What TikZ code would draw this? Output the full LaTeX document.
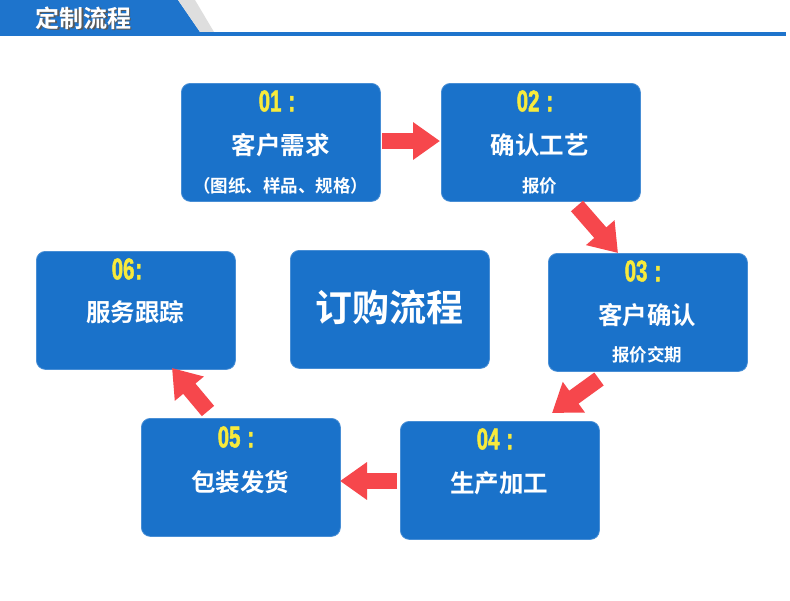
\documentclass[tikz,border=0pt]{standalone}
\usepackage{fontspec}
\setmainfont{Noto Sans CJK SC}[BoldFont={Noto Sans CJK SC Bold}]
\newfontfamily\numfont{Liberation Sans}[UprightFont={* Bold}, BoldFont={* Bold}, FakeStretch=0.68, FakeBold=1.5]
\usetikzlibrary{arrows.meta}
\definecolor{boxblue}{HTML}{1A72CA}
\definecolor{hdrblue}{HTML}{1E74CC}
\definecolor{arrred}{HTML}{F6474C}
\definecolor{numyel}{HTML}{F7EA3C}
\begin{document}
\begin{tikzpicture}[x=1pt,y=-1pt,
  box/.style={fill=boxblue, rounded corners=9pt, draw=boxblue!80!white, line width=0.8pt, minimum width=199pt, minimum height=118pt, anchor=north west, inner sep=0pt},
  main/.style={text=white, font=\bfseries\fontsize{24.5}{24.5}\selectfont, inner sep=0pt},
  sub/.style={text=white, font=\bfseries\fontsize{17.5}{17.5}\selectfont, inner sep=0pt},
  num/.style={text=numyel, font=\numfont\fontsize{30}{30}\selectfont, inner sep=0pt},
  blockarrow/.style={draw=arrred, line width=16pt, -{Triangle[length=27pt,width=36pt]}}]
\useasboundingbox (0,0) rectangle (790,600);
\fill[white] (0,0) rectangle (790,600);
% header
\fill[hdrblue] (0,0) -- (178,0) -- (200,32) -- (0,32) -- cycle;
\fill[black!13] (178,0) -- (195,0) -- (214,32) -- (200,32) -- cycle;
\fill[hdrblue] (0,32) rectangle (786,36);
\node[text=black!65, font=\bfseries\fontsize{24}{24}\selectfont] at (85,19.5) {定制流程};
\node[text=white, font=\bfseries\fontsize{24}{24}\selectfont] (title) at (83.5,18) {定制流程};
% boxes
\node[box] (b1) at (181,83) {};
\node[box] (b2) at (441,83) {};
\node[box] (b3) at (548,253) {};
\node[box] (b4) at (400,421) {};
\node[box] (b5) at (141,418) {};
\node[box] (b6) at (36,251) {};
\node[box] (bc) at (290,250) {};
% texts
\node[num] (n1) at (277,101) {01\hspace{7pt}:};
\node[main] (t1) at (280.5,145) {客户需求};
\node[sub] (s1) at (280.5,186) {（图纸、样品、规格）};
\node[num] (n2) at (535,101) {02\hspace{7pt}:};
\node[main] (t2) at (539.5,145) {确认工艺};
\node[sub] (s2) at (539.5,186) {报价};
\node[num] (n3) at (643,271) {03\hspace{7pt}:};
\node[main] (t3) at (647,315) {客户确认};
\node[sub] (s3) at (647,355) {报价交期};
\node[num] (n4) at (495,439) {04\hspace{7pt}:};
\node[main] (t4) at (499,483) {生产加工};
\node[num] (n5) at (236,437) {05\hspace{7pt}:};
\node[main] (t5) at (240,482) {包装发货};
\node[num] (n6) at (127,269) {06\hspace{1pt}:};
\node[main] (t6) at (135,312) {服务跟踪};
\node[text=white, font=\bfseries\fontsize{37}{37}\selectfont, inner sep=0pt] (tc) at (389,307) {订购流程};
% arrows
\coordinate (a1s) at (382,141); \coordinate (a1e) at (440,141);
\coordinate (a2s) at (577,206); \coordinate (a2e) at (618,253);
\coordinate (a3s) at (599,379); \coordinate (a3e) at (552,413);
\coordinate (a4s) at (397,481); \coordinate (a4e) at (340,481);
\coordinate (a5s) at (208,411); \coordinate (a5e) at (172,368);
\draw[blockarrow] (a1s) -- (a1e);
\draw[blockarrow] (a2s) -- (a2e);
\draw[blockarrow] (a3s) -- (a3e);
\draw[blockarrow] (a4s) -- (a4e);
\draw[blockarrow] (a5s) -- (a5e);
\end{tikzpicture}
\end{document}
